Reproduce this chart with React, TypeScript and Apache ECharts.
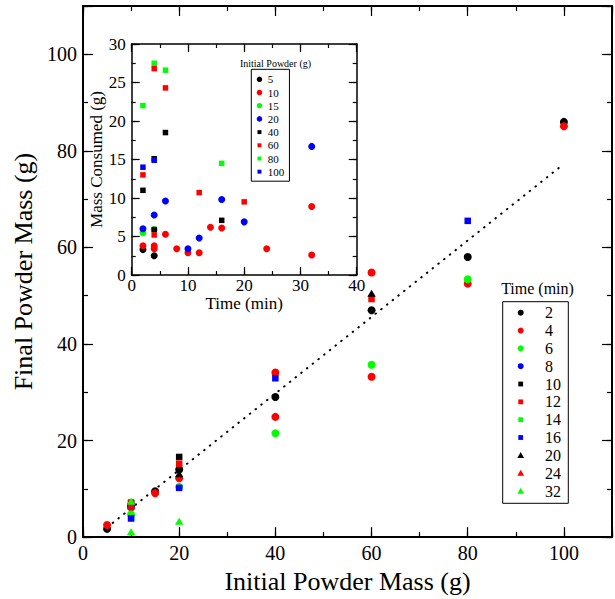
import { useEffect, useRef } from "react";
import * as echarts from "echarts";

const FONT = "Liberation Serif";
const BLACK = "#000000";
const RED = "#ff0000";
const GREEN = "#00ff00";
const BLUE = "#0000ff";

// ---- Main chart: final powder mass vs initial powder mass, one series per time (min)
const timeLabels = ["2", "4", "6", "8", "10", "12", "14", "16", "20", "24", "32"];
const t2Initial = [5, 10, 15, 20, 40, 60, 80, 100];
const t2Final = [1.7, 6.2, 9.5, 14.0, 29.0, 47.0, 58.0, 86.0];
const t4Initial = [5, 10, 10, 15, 20, 40, 40, 60, 60, 80, 100];
const t4Final = [2.5, 6.2, 6.6, 9.1, 12.2, 24.9, 34.1, 33.2, 54.8, 52.5, 85.1];
const t6Initial = [10, 20, 40, 60, 80];
const t6Final = [4.7, 10.4, 21.5, 35.7, 53.4];
const t8Initial = [10];
const t8Final = [6.6];
const t10Initial = [10, 20];
const t10Final = [7.1, 16.6];
const t12Initial = [10, 20, 60];
const t12Final = [7.1, 15.2, 49.3];
const t14Initial = [10];
const t14Final = [3.8];
const t16Initial = [10, 20, 40, 80];
const t16Final = [3.9, 10.2, 32.9, 65.5];
const t20Initial = [20, 60];
const t20Final = [13.1, 50.5];
const t24Initial = [10];
const t24Final = [6.6];
const t32Initial = [10, 10, 20];
const t32Final = [1.1, 7.4, 3.3];

// dotted fit line
const fitInitial = [5, 100];
const fitFinal = [2.0, 77.3];

// ---- Inset: mass consumed vs time, one series per initial powder (g)
const initialLabels = ["5", "10", "15", "20", "40", "60", "80", "100"];
const g5Time = [2, 4];
const g5Consumed = [3.3, 2.5];
const g10Time = [2, 4, 4, 6, 8, 10, 12, 14, 16, 24, 32, 32];
const g10Consumed = [3.8, 3.8, 3.4, 5.3, 3.4, 2.9, 2.9, 6.2, 6.1, 3.4, 8.9, 2.6];
const g15Time = [2, 4];
const g15Consumed = [5.5, 5.9];
const g20Time = [2, 4, 6, 10, 12, 16, 20, 32];
const g20Consumed = [6.0, 7.8, 9.6, 3.4, 4.8, 9.8, 6.9, 16.7];
const g40Time = [2, 4, 4, 6, 16];
const g40Consumed = [11.0, 15.1, 5.9, 18.5, 7.1];
const g60Time = [2, 4, 4, 6, 12, 20];
const g60Consumed = [13.0, 26.8, 5.2, 24.3, 10.7, 9.5];
const g80Time = [2, 4, 6, 16];
const g80Consumed = [22.0, 27.5, 26.6, 14.5];
const g100Time = [2, 4];
const g100Consumed = [14.0, 14.9];

const SQUARE_ICON = "path://M0,0M10,10M1.4,1.4L8.6,1.4L8.6,8.6L1.4,8.6Z";
const TRI_ICON = "path://M5,0L10,9L0,9Z";

const zip = (xs: number[], ys: number[]) => xs.map((x, i) => [x, ys[i]]);

const mainSeriesData = [
  { name: timeLabels[0], x: t2Initial, y: t2Final, color: BLACK, symbol: "circle" },
  { name: timeLabels[1], x: t4Initial, y: t4Final, color: RED, symbol: "circle" },
  { name: timeLabels[2], x: t6Initial, y: t6Final, color: GREEN, symbol: "circle" },
  { name: timeLabels[3], x: t8Initial, y: t8Final, color: BLUE, symbol: "circle" },
  { name: timeLabels[4], x: t10Initial, y: t10Final, color: BLACK, symbol: "rect" },
  { name: timeLabels[5], x: t12Initial, y: t12Final, color: RED, symbol: "rect" },
  { name: timeLabels[6], x: t14Initial, y: t14Final, color: GREEN, symbol: "rect" },
  { name: timeLabels[7], x: t16Initial, y: t16Final, color: BLUE, symbol: "rect" },
  { name: timeLabels[8], x: t20Initial, y: t20Final, color: BLACK, symbol: "triangle" },
  { name: timeLabels[9], x: t24Initial, y: t24Final, color: RED, symbol: "triangle" },
  { name: timeLabels[10], x: t32Initial, y: t32Final, color: GREEN, symbol: "triangle" },
];

const insetSeriesData = [
  { name: initialLabels[0], x: g5Time, y: g5Consumed, color: BLACK, symbol: "circle" },
  { name: initialLabels[1], x: g10Time, y: g10Consumed, color: RED, symbol: "circle" },
  { name: initialLabels[2], x: g15Time, y: g15Consumed, color: GREEN, symbol: "circle" },
  { name: initialLabels[3], x: g20Time, y: g20Consumed, color: BLUE, symbol: "circle" },
  { name: initialLabels[4], x: g40Time, y: g40Consumed, color: BLACK, symbol: "rect" },
  { name: initialLabels[5], x: g60Time, y: g60Consumed, color: RED, symbol: "rect" },
  { name: initialLabels[6], x: g80Time, y: g80Consumed, color: GREEN, symbol: "rect" },
  { name: initialLabels[7], x: g100Time, y: g100Consumed, color: BLUE, symbol: "rect" },
];

const symSize = (symbol: string, inset: boolean) => {
  if (inset) return symbol === "circle" ? 7 : 5.5;
  if (symbol === "circle") return 8;
  if (symbol === "rect") return 6.5;
  return [8.5, 7];
};

const iconFor = (symbol: string) =>
  symbol === "circle" ? "circle" : symbol === "rect" ? SQUARE_ICON : TRI_ICON;

type AxisOpt = {
  grid: number;
  pos: "bottom" | "top" | "left" | "right";
  min: number;
  max: number;
  interval: number;
  tickLen: number;
  line: number;
  labels?: boolean;
  labelSize?: number;
  labelMargin?: number;
  labelMax?: number;
  name?: string;
  nameSize?: number;
  nameGap?: number;
};

const axis = (o: AxisOpt) => ({
  type: "value",
  gridIndex: o.grid,
  position: o.pos,
  min: o.min,
  max: o.max,
  interval: o.interval,
  axisLine: {
    show: o.line > 0,
    onZero: false,
    lineStyle: { color: BLACK, width: o.line },
  },
  axisTick: {
    show: true,
    inside: true,
    length: o.tickLen,
    lineStyle: { color: BLACK, width: 1.2 },
  },
  axisLabel: {
    show: !!o.labels,
    margin: o.labelMargin ?? 6,
    fontSize: o.labelSize ?? 20,
    fontFamily: FONT,
    color: BLACK,
    formatter: (v: number) => (o.labelMax != null && v > o.labelMax ? "" : String(v)),
  },
  splitLine: { show: false },
  name: o.name,
  nameLocation: "middle",
  nameGap: o.nameGap,
  nameTextStyle: { fontSize: o.nameSize, fontFamily: FONT, color: BLACK },
});

// main legend drawn as graphic elements (box, marker, label per time series)
const LEG_X = 502.7;
const LEG_Y = 301.7;
const LEG_W = 65.6;
const LEG_H = 201.6;
const LEG_ROW0 = 312.7;
const LEG_STEP = 17.83;
const LEG_SYM_X = 520.7;
const LEG_TXT_X = 545;

const legendMarker = (symbol: string, color: string, cx: number, cy: number) => {
  if (symbol === "circle") {
    return { type: "circle", shape: { cx, cy, r: 3 }, style: { fill: color } };
  }
  if (symbol === "rect") {
    return { type: "rect", shape: { x: cx - 2.4, y: cy - 2.4, width: 4.8, height: 4.8 }, style: { fill: color } };
  }
  return {
    type: "polygon",
    shape: { points: [[cx, cy - 3.3], [cx + 3.4, cy + 2.7], [cx - 3.4, cy + 2.7]] },
    style: { fill: color },
  };
};

export default function App() {
  const ref = useRef<HTMLDivElement>(null);

  useEffect(() => {
    if (!ref.current) return;
    const chart = echarts.init(ref.current, undefined, { renderer: "svg" });

    const xAxis = [
      // main grid (index 0..3)
      axis({ grid: 0, pos: "bottom", min: 0, max: 110, interval: 20, tickLen: 10, line: 2, labels: true, labelMargin: 6, labelMax: 100, name: "Initial Powder Mass (g)", nameSize: 26, nameGap: 28 }),
      axis({ grid: 0, pos: "bottom", min: 0, max: 110, interval: 10, tickLen: 5, line: 0 }),
      axis({ grid: 0, pos: "top", min: 0, max: 110, interval: 20, tickLen: 10, line: 2 }),
      axis({ grid: 0, pos: "top", min: 0, max: 110, interval: 10, tickLen: 5, line: 0 }),
      // inset grid (index 4..7)
      axis({ grid: 1, pos: "bottom", min: 0, max: 40, interval: 10, tickLen: 8, line: 1.5, labels: true, labelSize: 17, labelMargin: 2, name: "Time (min)", nameSize: 17, nameGap: 11 }),
      axis({ grid: 1, pos: "bottom", min: 0, max: 40, interval: 5, tickLen: 4, line: 0 }),
      axis({ grid: 1, pos: "top", min: 0, max: 40, interval: 10, tickLen: 8, line: 1.5 }),
      axis({ grid: 1, pos: "top", min: 0, max: 40, interval: 5, tickLen: 4, line: 0 }),
    ];
    const yAxis = [
      axis({ grid: 0, pos: "left", min: 0, max: 110, interval: 20, tickLen: 10, line: 2, labels: true, labelMargin: 6, labelMax: 100, name: "Final Powder Mass (g)", nameSize: 26, nameGap: 42 }),
      axis({ grid: 0, pos: "left", min: 0, max: 110, interval: 10, tickLen: 5, line: 0 }),
      axis({ grid: 0, pos: "right", min: 0, max: 110, interval: 20, tickLen: 10, line: 2 }),
      axis({ grid: 0, pos: "right", min: 0, max: 110, interval: 10, tickLen: 5, line: 0 }),
      axis({ grid: 1, pos: "left", min: 0, max: 30, interval: 5, tickLen: 8, line: 1.5, labels: true, labelSize: 17, labelMargin: 6, name: "Mass Consumed (g)", nameSize: 17, nameGap: 23 }),
      axis({ grid: 1, pos: "left", min: 0, max: 30, interval: 2.5, tickLen: 4, line: 0 }),
      axis({ grid: 1, pos: "right", min: 0, max: 30, interval: 5, tickLen: 8, line: 1.5 }),
      axis({ grid: 1, pos: "right", min: 0, max: 30, interval: 2.5, tickLen: 4, line: 0 }),
    ];

    const series: any[] = [
      {
        name: "fit",
        type: "line",
        xAxisIndex: 0,
        yAxisIndex: 0,
        data: zip(fitInitial, fitFinal),
        symbol: "none",
        silent: true,
        lineStyle: { color: BLACK, width: 2, type: [0.5, 6.8], cap: "round" },
        z: 1,
      },
      ...mainSeriesData.map((s) => ({
        name: s.name,
        type: "scatter",
        xAxisIndex: 0,
        yAxisIndex: 0,
        data: zip(s.x, s.y),
        symbol: s.symbol,
        symbolSize: symSize(s.symbol, false),
        itemStyle: { color: s.color, opacity: 1 },
        z: 3,
      })),
      ...insetSeriesData.map((s) => ({
        name: "init" + s.name,
        type: "scatter",
        xAxisIndex: 4,
        yAxisIndex: 4,
        data: zip(s.x, s.y),
        symbol: s.symbol,
        symbolSize: symSize(s.symbol, true),
        itemStyle: { color: s.color, opacity: 1 },
        z: 3,
      })),
    ];

    const mainLegend: any[] = [
      {
        type: "rect",
        shape: { x: LEG_X, y: LEG_Y, width: LEG_W, height: LEG_H },
        style: { fill: "#ffffff", stroke: BLACK, lineWidth: 1 },
        z: 10,
      },
      {
        type: "text",
        x: 537.5,
        y: 288.3,
        z: 10,
        style: {
          text: "Time (min)",
          font: `16px ${FONT}`,
          fill: BLACK,
          textAlign: "center",
          textVerticalAlign: "middle",
          align: "center",
          verticalAlign: "middle",
        },
      },
    ];
    mainSeriesData.forEach((s, i) => {
      const cy = LEG_ROW0 + i * LEG_STEP;
      mainLegend.push({ ...legendMarker(s.symbol, s.color, LEG_SYM_X, cy), z: 11 });
      mainLegend.push({
        type: "text",
        x: LEG_TXT_X,
        y: cy,
        z: 11,
        style: {
          text: s.name,
          font: `16px ${FONT}`,
          fill: BLACK,
          textAlign: "left",
          textVerticalAlign: "middle",
          align: "left",
          verticalAlign: "middle",
        },
      });
    });

    chart.setOption({
      animation: false,
      backgroundColor: "#ffffff",
      textStyle: { fontFamily: FONT },
      grid: [
        { left: 83, top: 6, width: 529, height: 532, containLabel: false },
        { left: 131.7, top: 44, width: 225, height: 231, show: true, backgroundColor: "#ffffff", borderWidth: 0, containLabel: false },
      ],
      xAxis,
      yAxis,
      legend: [
        {
          orient: "vertical",
          left: 251.3,
          top: 69.3,
          align: "left",
          selectedMode: false,
          symbolKeepAspect: true,
          itemWidth: 6.6,
          itemHeight: 5.5,
          itemGap: 2.2,
          padding: [4.5, 5.2, 4, 5.4],
          borderColor: BLACK,
          borderWidth: 1,
          backgroundColor: "#ffffff",
          textStyle: { fontFamily: FONT, fontSize: 11, lineHeight: 11, color: BLACK },
          formatter: (name: string) => name.replace("init", ""),
          data: insetSeriesData.map((s) => ({ name: "init" + s.name, icon: iconFor(s.symbol) })),
        },
      ],
      graphic: [
        ...mainLegend,
        {
          type: "text",
          x: 275.5,
          y: 63.3,
          style: {
            text: "Initial Powder (g)",
            font: `10px ${FONT}`,
            fill: BLACK,
            textAlign: "center",
            textVerticalAlign: "middle",
            align: "center",
            verticalAlign: "middle",
          },
        },
      ],
      series,
    });

    return () => chart.dispose();
  }, []);

  return (
    <div
      ref={ref}
      style={{ position: "fixed", left: 0, top: 0, width: 615, height: 599, background: "#fff" }}
    />
  );
}
